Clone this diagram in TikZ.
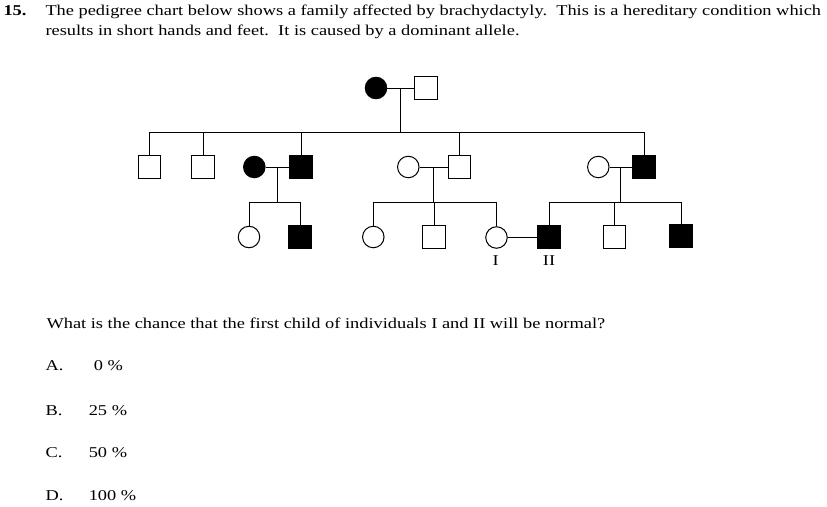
\documentclass[tikz,border=0pt]{standalone}
\usepackage{fontspec}
\setmainfont{Liberation Serif}[FakeStretch=1.225]
\usetikzlibrary{positioning,calc}

\begin{document}
\begin{tikzpicture}[x=1pt, y=-1pt, line width=1pt,
    male/.style={rectangle, draw, minimum size=22.5pt, inner sep=0pt},
    female/.style={circle, draw, minimum size=21.5pt, inner sep=0pt},
    aff/.style={fill=black},
    txt/.style={anchor=base west, inner sep=0pt, font=\fontsize{15}{20}\selectfont}]
    \useasboundingbox (0,0) rectangle (827,506);

    % Question text
    \node[txt, font=\fontsize{15}{20}\selectfont\bfseries] (num) at (3,15) {15.};
    \node[txt] (line1) at (45,15) {The pedigree chart below shows a family affected by brachydactyly.\ \ This is a hereditary condition which};
    \node[txt] (line2) at (45,35) {results in short hands and feet.\ \ It is caused by a dominant allele.};

    % Generation 1
    \node[female, aff] (gm) at (376,88) {};
    \node[male] (gp) at (426,88) {};
    \draw (gm) -- coordinate[midway] (m0) (gp);

    % Generation 2
    \node[male] (s1) at (149.5,167) {};
    \node[male] (s2) at (203,167) {};
    \node[female, aff] (w1) at (254.3,167) {};
    \node[male, aff] (s3) at (301,167) {};
    \node[female] (w2) at (408.3,167) {};
    \node[male] (s4) at (459.7,167) {};
    \node[female] (w3) at (598.3,167) {};
    \node[male, aff] (s5) at (644,167) {};
    \draw (m0) -- (m0 |- 0,132);
    \draw (s1.north) |- (s5.north |- 0,132) -- (s5.north);
    \foreach \c in {s2,s3,s4} \draw (\c.north) -- (\c.north |- 0,132);
    \draw (w1) -- coordinate[midway] (m1) (s3);
    \draw (w2) -- coordinate[midway] (m2) (s4);
    \draw (w3) -- coordinate[midway] (m3) (s5);

    % Generation 3
    \node[female] (g1) at (249,237) {};
    \node[male, aff] (g2) at (300,237) {};
    \node[female] (g3) at (373.3,237) {};
    \node[male] (g4) at (434,237) {};
    \node[female] (g5) at (496.5,237.5) {};
    \node[male, aff] (g6) at (549,237) {};
    \node[male] (g7) at (614.7,237) {};
    \node[male, aff] (g8) at (681,236) {};
    \draw (m1) -- (m1 |- 0,202.5);
    \draw (g1.north) |- (g2.north |- 0,202.5) -- (g2.north);
    \draw (m2) -- (m2 |- 0,202.5);
    \draw (g3.north) |- (g5.north |- 0,202.5) -- (g5.north);
    \draw (g4.north) -- (g4.north |- 0,202.5);
    \draw (m3) -- (m3 |- 0,202.5);
    \draw (g6.north) |- (g8.north |- 0,202.5) -- (g8.north);
    \draw (g7.north) -- (g7.north |- 0,202.5);
    \draw (g5.east) -- (g5.east -| g6.west);
    \node[txt, anchor=base] (lab1) at (495.7,265) {I};
    \node[txt, anchor=base] (lab2) at (549,265) {II};

    % Answers
    \node[txt] (ques) at (46,328) {What is the chance that the first child of individuals I and II will be normal?};
    \node[txt] (optA) at (45,370.7) {A.};
    \node[txt] (valA) at (93.3,370.7) {0~\%};
    \node[txt] (optB) at (45,415) {B.};
    \node[txt] (valB) at (88.3,415) {25~\%};
    \node[txt] (optC) at (45,457) {C.};
    \node[txt] (valC) at (88.3,457) {50~\%};
    \node[txt] (optD) at (45,500.7) {D.};
    \node[txt] (valD) at (88.3,500.7) {100~\%};
\end{tikzpicture}
\end{document}
